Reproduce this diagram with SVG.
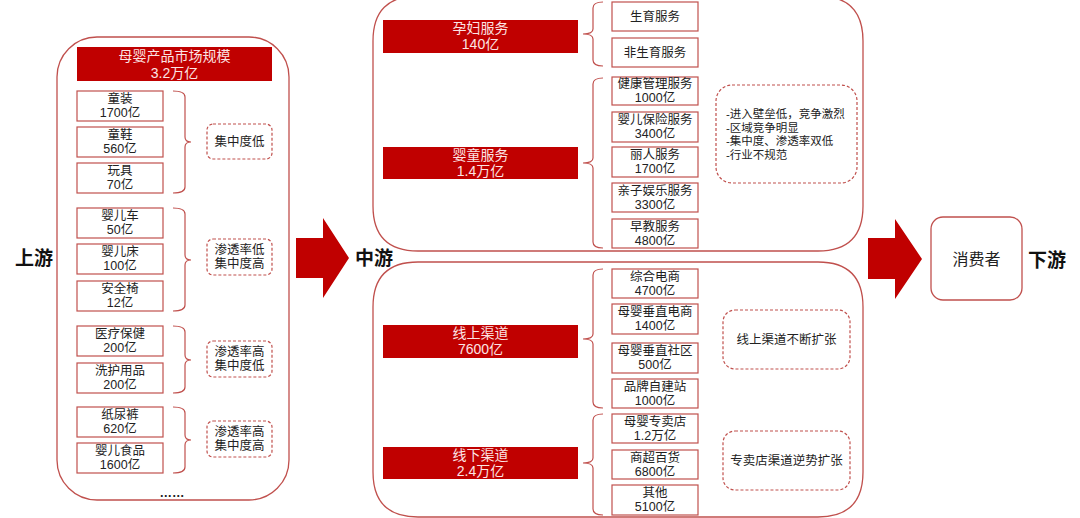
<svg xmlns="http://www.w3.org/2000/svg" width="1080" height="518" viewBox="0 0 1080 518">
<style>
text{font-family:"Liberation Sans","Noto Sans CJK SC",sans-serif;text-anchor:middle}
.big{fill:none;stroke:#C0504D;stroke-width:1.3}
.item{fill:#fff;stroke:#C0504D;stroke-width:1.2}
.red{fill:#C00000}
.dash{fill:#fff;stroke:#C0504D;stroke-width:1.2;stroke-dasharray:3 2}
.br{fill:none;stroke:#C0504D;stroke-width:1.2}
.t{font-size:12.5px;fill:#222}
.s{font-size:11.5px;fill:#222;text-anchor:start}
.w{font-size:14px;fill:#FCE4E4}
.lbl{font-size:19px;font-weight:bold;fill:#111}
.arr{fill:#C00000}
</style>

<g id="upstream">
<rect class="big" x="57" y="37" width="232" height="463" rx="40"/>
<rect class="red" x="77" y="47" width="195" height="34"/>
<text class="w" x="174.5" y="61">母婴产品市场规模<tspan x="174.5" dy="17">3.2万亿</tspan></text>
<text class="lbl" x="34" y="265">上游</text>
<text class="t" x="172" y="497" style="font-weight:bold">……</text>
</g>

<g id="up-items">
<g id="n-tongzhuang"><rect class="item" x="77" y="91" width="86" height="30"/><text class="t" x="120" y="102.5">童装<tspan x="120" dy="14">1700亿</tspan></text></g>
<g id="n-tongxie"><rect class="item" x="77" y="127" width="86" height="30"/><text class="t" x="120" y="138.5">童鞋<tspan x="120" dy="14">560亿</tspan></text></g>
<g id="n-wanju"><rect class="item" x="77" y="163" width="86" height="30"/><text class="t" x="120" y="174.5">玩具<tspan x="120" dy="14">70亿</tspan></text></g>
<g id="n-yingerche"><rect class="item" x="77" y="208" width="86" height="30"/><text class="t" x="120" y="219.5">婴儿车<tspan x="120" dy="14">50亿</tspan></text></g>
<g id="n-yingerchuang"><rect class="item" x="77" y="244" width="86" height="30"/><text class="t" x="120" y="255.5">婴儿床<tspan x="120" dy="14">100亿</tspan></text></g>
<g id="n-anquanyi"><rect class="item" x="77" y="281" width="86" height="30"/><text class="t" x="120" y="292.5">安全椅<tspan x="120" dy="14">12亿</tspan></text></g>
<g id="n-yiliao"><rect class="item" x="77" y="326" width="86" height="30"/><text class="t" x="120" y="337.5">医疗保健<tspan x="120" dy="14">200亿</tspan></text></g>
<g id="n-xihu"><rect class="item" x="77" y="363" width="86" height="30"/><text class="t" x="120" y="374.5">洗护用品<tspan x="120" dy="14">200亿</tspan></text></g>
<g id="n-zhiniaoku"><rect class="item" x="77" y="407" width="86" height="30"/><text class="t" x="120" y="418.5">纸尿裤<tspan x="120" dy="14">620亿</tspan></text></g>
<g id="n-shipin"><rect class="item" x="77" y="443" width="86" height="30"/><text class="t" x="120" y="454.5">婴儿食品<tspan x="120" dy="14">1600亿</tspan></text></g>
</g>

<g id="up-notes">
<g id="note1"><rect class="dash" x="207" y="124" width="65" height="35" rx="6"/><text class="t" x="239.5" y="146">集中度低</text></g>
<g id="note2"><rect class="dash" x="207" y="239" width="65" height="36" rx="6"/><text class="t" x="239.5" y="254">渗透率低<tspan x="239.5" dy="14">集中度高</tspan></text></g>
<g id="note3"><rect class="dash" x="207" y="341" width="65" height="36" rx="6"/><text class="t" x="239.5" y="356">渗透率高<tspan x="239.5" dy="14">集中度低</tspan></text></g>
<g id="note4"><rect class="dash" x="207" y="421" width="65" height="36" rx="6"/><text class="t" x="239.5" y="436">渗透率高<tspan x="239.5" dy="14">集中度高</tspan></text></g>
</g>

<g id="midstream">
<path class="big" d="M418,-4 H818 Q863,-4 863,41 V206 Q863,251 818,251 H418 Q373,251 373,206 V41 Q373,-4 418,-4 Z"/>
<path class="big" d="M418,262 H818 Q863,262 863,307 V472 Q863,517 818,517 H418 Q373,517 373,472 V307 Q373,262 418,262 Z"/>
<text class="lbl" x="374" y="265">中游</text>
<g id="n-yunfu"><rect class="red" x="383" y="20" width="195" height="33"/><text class="w" x="480.5" y="33">孕妇服务<tspan x="480.5" dy="16">140亿</tspan></text></g>
<g id="n-yingtong"><rect class="red" x="383" y="147" width="195" height="32"/><text class="w" x="480.5" y="159.5">婴童服务<tspan x="480.5" dy="16">1.4万亿</tspan></text></g>
<g id="n-xianshang"><rect class="red" x="383" y="325" width="195" height="33"/><text class="w" x="480.5" y="338">线上渠道<tspan x="480.5" dy="16">7600亿</tspan></text></g>
<g id="n-xianxia"><rect class="red" x="383" y="447" width="195" height="32"/><text class="w" x="480.5" y="459.5">线下渠道<tspan x="480.5" dy="16">2.4万亿</tspan></text></g>
</g>

<g id="mid-items">
<g id="n-shengyu"><rect class="item" x="612" y="2" width="86" height="29"/><text class="t" x="655" y="21">生育服务</text></g>
<g id="n-feishengyu"><rect class="item" x="612" y="38" width="86" height="29"/><text class="t" x="655" y="57">非生育服务</text></g>
<g id="n-jiankang"><rect class="item" x="612" y="77" width="86" height="28"/><text class="t" x="655" y="88">健康管理服务<tspan x="655" dy="14">1000亿</tspan></text></g>
<g id="n-baoxian"><rect class="item" x="612" y="112" width="86" height="30"/><text class="t" x="655" y="124">婴儿保险服务<tspan x="655" dy="14">3400亿</tspan></text></g>
<g id="n-liren"><rect class="item" x="612" y="147" width="86" height="30"/><text class="t" x="655" y="159">丽人服务<tspan x="655" dy="14">1700亿</tspan></text></g>
<g id="n-qinzi"><rect class="item" x="612" y="183" width="86" height="29"/><text class="t" x="655" y="194.5">亲子娱乐服务<tspan x="655" dy="14">3300亿</tspan></text></g>
<g id="n-zaojiao"><rect class="item" x="612" y="219" width="86" height="29"/><text class="t" x="655" y="230.5">早教服务<tspan x="655" dy="14">4800亿</tspan></text></g>
<g id="n-zonghe"><rect class="item" x="612" y="269" width="86" height="29"/><text class="t" x="655" y="280.5">综合电商<tspan x="655" dy="14">4700亿</tspan></text></g>
<g id="n-chuizhi"><rect class="item" x="612" y="304" width="86" height="30"/><text class="t" x="655" y="316">母婴垂直电商<tspan x="655" dy="14">1400亿</tspan></text></g>
<g id="n-shequ"><rect class="item" x="612" y="343" width="86" height="30"/><text class="t" x="655" y="355">母婴垂直社区<tspan x="655" dy="14">500亿</tspan></text></g>
<g id="n-zijian"><rect class="item" x="612" y="379" width="86" height="29"/><text class="t" x="655" y="390.5">品牌自建站<tspan x="655" dy="14">1000亿</tspan></text></g>
<g id="n-zhuanmai"><rect class="item" x="612" y="414" width="86" height="29"/><text class="t" x="655" y="425.5">母婴专卖店<tspan x="655" dy="14">1.2万亿</tspan></text></g>
<g id="n-shangchao"><rect class="item" x="612" y="450" width="86" height="29"/><text class="t" x="655" y="461.5">商超百货<tspan x="655" dy="14">6800亿</tspan></text></g>
<g id="n-qita"><rect class="item" x="612" y="485" width="86" height="30"/><text class="t" x="655" y="497">其他<tspan x="655" dy="14">5100亿</tspan></text></g>
</g>

<g id="mid-notes">
<g id="note5"><rect class="dash" x="716" y="85" width="141" height="98" rx="16"/>
<text class="s" x="726" y="118">-进入壁垒低，竞争激烈<tspan x="726" dy="13.5">-区域竞争明显</tspan><tspan x="726" dy="13.5">-集中度、渗透率双低</tspan><tspan x="726" dy="13.5">-行业不规范</tspan></text></g>
<g id="note6"><rect class="dash" x="723" y="310" width="127" height="59" rx="12"/><text class="t" x="786.5" y="344">线上渠道不断扩张</text></g>
<g id="note7"><rect class="dash" x="723" y="431" width="127" height="59" rx="12"/><text class="t" x="786.5" y="465">专卖店渠道逆势扩张</text></g>
</g>

<g id="downstream">
<rect class="big" x="931" y="217" width="91" height="83" rx="12"/>
<text x="976.5" y="265" style="font-size:16px;fill:#222">消费者</text>
<text class="lbl" x="1047" y="267">下游</text>
</g>

<g id="connectors">
<path class="br" d="M173,91 Q185,91 185,97 V137 Q185,142 191,142 Q185,142 185,147 V187 Q185,193 173,193"/>
<path class="br" d="M173,208 Q185,208 185,214 V255 Q185,260 191,260 Q185,260 185,265 V305 Q185,311 173,311"/>
<path class="br" d="M173,326 Q185,326 185,332 V355 Q185,360 191,360 Q185,360 185,365 V387 Q185,393 173,393"/>
<path class="br" d="M173,407 Q185,407 185,413 V435 Q185,440 191,440 Q185,440 185,445 V467 Q185,473 173,473"/>
<path class="br" d="M603,2 Q593,2 593,8 V29 Q593,34 583,34 Q593,34 593,39 V60 Q593,66 603,66"/>
<path class="br" d="M603,78 Q593,78 593,84 V158 Q593,163 583,163 Q593,163 593,168 V242 Q593,248 603,248"/>
<path class="br" d="M603,269 Q593,269 593,275 V334 Q593,339 583,339 Q593,339 593,344 V402 Q593,408 603,408"/>
<path class="br" d="M603,414 Q593,414 593,420 V458 Q593,463 583,463 Q593,463 593,468 V509 Q593,515 603,515"/>
<path class="arr" d="M296,238 H323 V218 L349,258 L323,298 V278 H296 Z"/>
<path class="arr" d="M868,238 H895 V219 L922,259 L895,299 V279 H868 Z"/>
</g>
</svg>
